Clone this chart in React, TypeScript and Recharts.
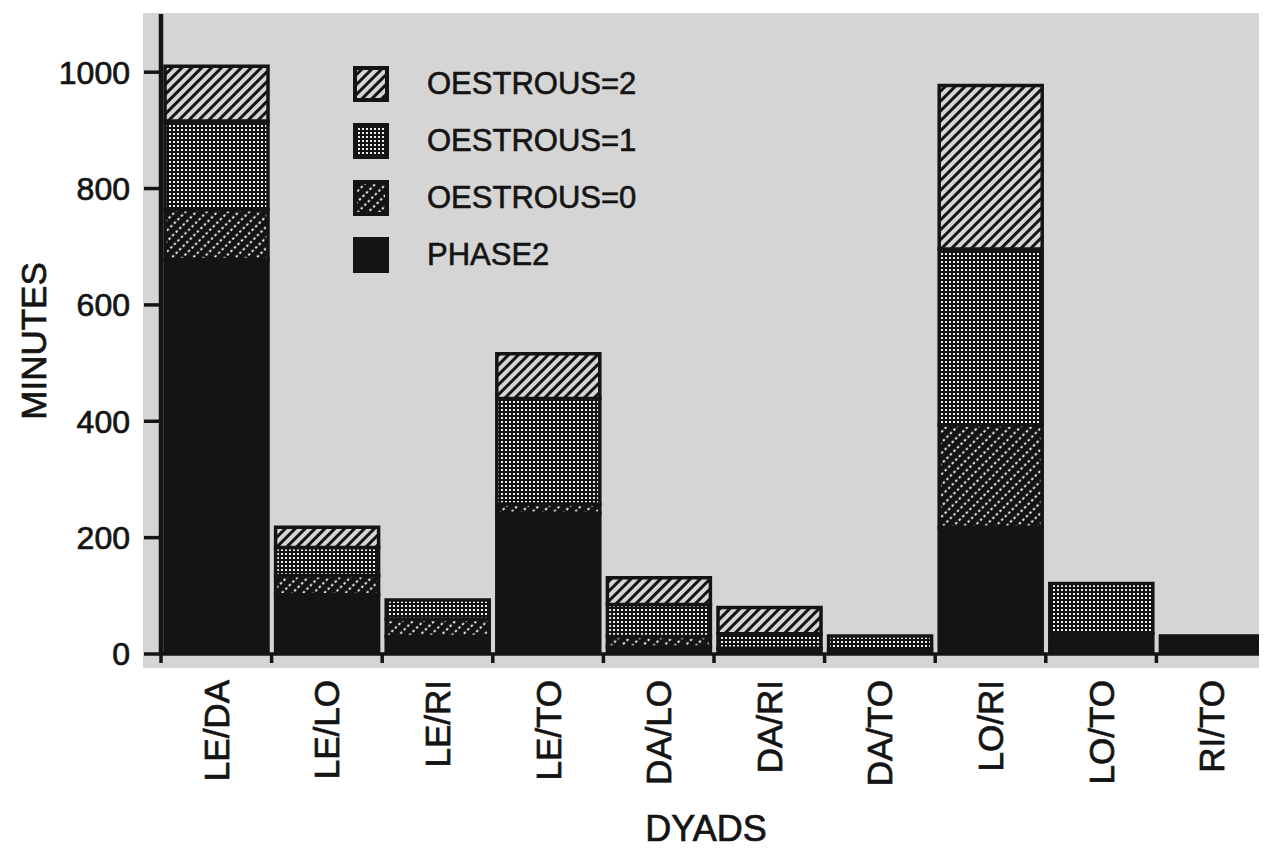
import { BarChart, Bar, XAxis, YAxis, Legend } from "recharts";

// ─── Data ────────────────────────────────────────────────────────────────────
const DYADS = ["LE/DA", "LE/LO", "LE/RI", "LE/TO", "DA/LO", "DA/RI", "DA/TO", "LO/RI", "LO/TO", "RI/TO"];
const PHASE2 = [678, 102, 30, 242, 12, 10, 8, 218, 35, 31];
const OESTROUS_0 = [86, 33, 30, 16, 18, 0, 0, 176, 0, 0];
const OESTROUS_1 = [152, 48, 33, 181, 55, 25, 23, 302, 86, 0];
const OESTROUS_2 = [94, 35, 0, 77, 46, 45, 0, 281, 0, 0];
const Y_TICKS = [0, 200, 400, 600, 800, 1000];

const data = DYADS.map((dyad, i) => ({
  dyad,
  phase2: PHASE2[i],
  o0: OESTROUS_0[i],
  o1: OESTROUS_1[i],
  o2: OESTROUS_2[i],
}));

// ─── Look ────────────────────────────────────────────────────────────────────
const INK = "#141414";
const PAPER = "#d5d5d5";
const SPECK = "#ececec";
const FONT = '"Liberation Sans", Arial, Helvetica, sans-serif';
// scanned type is a little heavier than the installed font
const HEAVY = { stroke: INK, strokeWidth: 0.7 };

const CHART_W = 1267;
const CHART_H = 851;
const Y_AXIS_W = 161;
const X_AXIS_H = 197;
const TOP = 14;
const BAND = (CHART_W - Y_AXIS_W) / DYADS.length;

// bottom → top stacking order
const SERIES = [
  { key: "phase2", name: "PHASE2", fill: INK },
  { key: "o0", name: "OESTROUS=0", fill: "url(#dotHatch)" },
  { key: "o1", name: "OESTROUS=1", fill: "url(#screen)" },
  { key: "o2", name: "OESTROUS=2", fill: "url(#hatch)" },
];

function Patterns() {
  return (
    <svg width={0} height={0} style={{ position: "absolute" }}>
      <defs>
        <pattern id="hatch" width="7" height="7" patternUnits="userSpaceOnUse" patternTransform="rotate(-45)">
          <rect width="7" height="7" fill={PAPER} />
          <rect width="7" height="3" fill={INK} />
        </pattern>
        <pattern id="screen" width="4" height="4" patternUnits="userSpaceOnUse">
          <rect width="4" height="4" fill={INK} />
          <rect x="1" y="1" width="2" height="2" fill={SPECK} />
        </pattern>
        <pattern id="dotHatch" width="5" height="7.5" patternUnits="userSpaceOnUse" patternTransform="rotate(-45)">
          <rect width="5" height="7.5" fill={INK} />
          <rect x="0" y="2.6" width="2.4" height="2" fill={SPECK} />
        </pattern>
      </defs>
    </svg>
  );
}

function DyadTick({ x, y, payload, index }: any) {
  const left = x - BAND / 2;
  const right = x + BAND / 2;
  const ty = y + 26;
  return (
    <g>
      <line x1={left} x2={left} y1={y} y2={y + 9} stroke={INK} strokeWidth={3.5} />
      {index === DYADS.length - 1 && (
        <line x1={right - 2} x2={right - 2} y1={y} y2={y + 9} stroke={INK} strokeWidth={3.5} />
      )}
      <text
        x={x}
        y={ty}
        dy="0.36em"
        textAnchor="end"
        transform={`rotate(-90 ${x} ${ty})`}
        fontSize={35}
        fontFamily={FONT}
        fill={INK}
        {...HEAVY}
      >
        {payload.value}
      </text>
    </g>
  );
}

function LegendBox() {
  const rows = [...SERIES].reverse();
  return (
    <div style={{ fontFamily: FONT }}>
      {rows.map((s) => (
        <div key={s.key} style={{ display: "flex", alignItems: "center", height: 36, marginBottom: 21 }}>
          <svg width={36} height={36}>
            <rect x={2} y={2} width={32} height={32} fill={s.fill} stroke={INK} strokeWidth={4} />
          </svg>
          <span
            style={{
              marginLeft: 38,
              fontSize: 31,
              color: INK,
              lineHeight: "36px",
              WebkitTextStroke: `0.6px ${INK}`,
            }}
          >
            {s.name}
          </span>
        </div>
      ))}
    </div>
  );
}

export default function App() {
  return (
    <div
      style={{
        position: "relative",
        width: CHART_W,
        height: CHART_H,
        marginLeft: -8,
        marginTop: -8,
        background: "#fff",
        fontFamily: FONT,
      }}
    >
      <Patterns />
      {/* scanned paper behind the plot */}
      <div style={{ position: "absolute", left: 143, top: 13, width: CHART_W - 143, height: 655, background: PAPER }} />
      <div style={{ position: "absolute", left: 0, top: 0 }}>
        <BarChart
          width={CHART_W}
          height={CHART_H}
          data={data}
          margin={{ top: TOP, right: 0, bottom: 0, left: 0 }}
          barCategoryGap={4}
        >
          <XAxis
            dataKey="dyad"
            height={X_AXIS_H}
            interval={0}
            tickLine={false}
            tickSize={0}
            tickMargin={0}
            axisLine={{ stroke: INK, strokeWidth: 3.5 }}
            tick={<DyadTick />}
            label={{
              value: "DYADS",
              position: "insideBottom",
              offset: 10,
              fontSize: 36,
              fill: INK,
              fontFamily: FONT,
              dx: -8,
              ...HEAVY,
            }}
          />
          <YAxis
            width={Y_AXIS_W}
            domain={[0, 1100]}
            ticks={Y_TICKS}
            allowDataOverflow
            tickSize={17}
            tickMargin={14}
            axisLine={{ stroke: INK, strokeWidth: 4.5 }}
            tickLine={{ stroke: INK, strokeWidth: 3.5 }}
            tick={{ fill: INK, fontSize: 32, fontFamily: FONT, ...HEAVY }}
            label={{
              value: "MINUTES",
              content: ({ viewBox }: any) => {
                const cx = viewBox.x + 33;
                const cy = viewBox.y + viewBox.height / 2 + 7;
                return (
                  <text
                    x={cx}
                    y={cy}
                    dy="0.36em"
                    textAnchor="middle"
                    transform={`rotate(-90 ${cx} ${cy})`}
                    fontSize={35}
                    fontFamily={FONT}
                    fill={INK}
                    {...HEAVY}
                  >
                    MINUTES
                  </text>
                );
              },
            }}
          />
          <Legend
            layout="vertical"
            align="center"
            verticalAlign="middle"
            content={<LegendBox />}
            wrapperStyle={{ left: 353, top: 66, width: 320, height: 240 }}
          />
          {SERIES.map((s) => (
            <Bar
              key={s.key}
              dataKey={s.key}
              name={s.name}
              stackId="dyad"
              fill={s.fill}
              stroke={INK}
              strokeWidth={3.5}
              isAnimationActive={false}
            />
          ))}
        </BarChart>
      </div>
    </div>
  );
}
